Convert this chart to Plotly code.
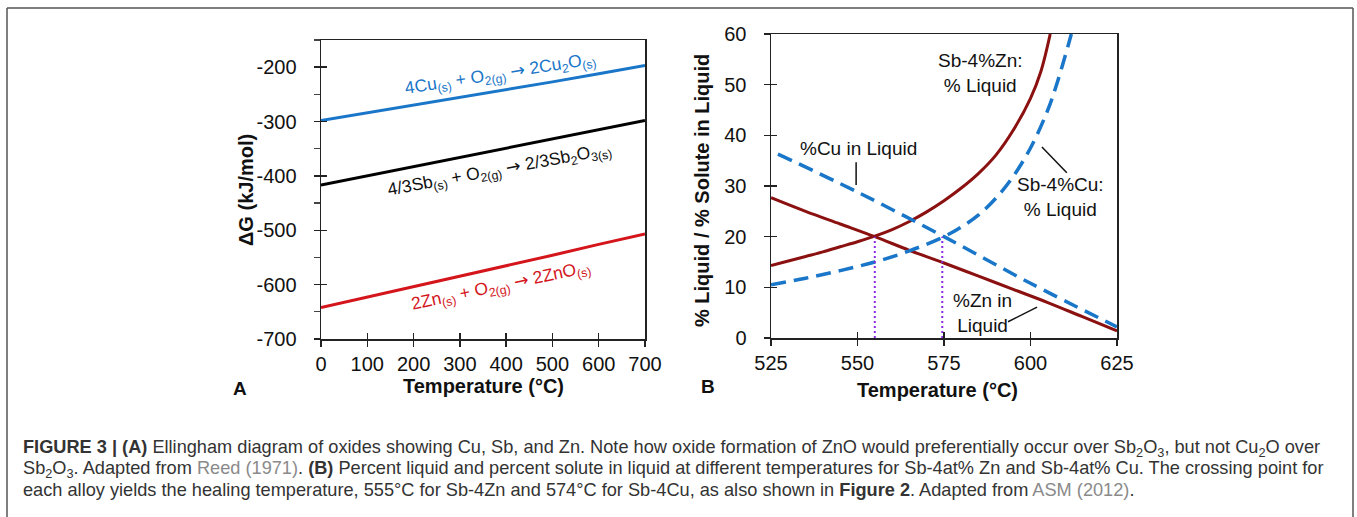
import plotly.graph_objects as go

W, H = 1357, 517

# ---------------- Panel A data (Ellingham) ----------------
temp_a = [0, 100, 200, 300, 400, 500, 600, 700]
dg_cu = [-298, -284, -270, -256, -242, -227, -212, -197]
dg_sb = [-417, -400, -383, -366, -350, -333, -315, -298]
dg_zn = [-642, -623, -604, -585, -565, -546, -526, -507]
a_xticks = [0, 100, 200, 300, 400, 500, 600, 700]
a_yticks = [-700, -600, -500, -400, -300, -200]
a_yticktext = ["-700", "-600", "-500", "-400", "-300", "-200"]

# ---------------- Panel B data ----------------
t_zn_liq = [525, 530, 535, 540, 545, 550, 555, 560, 565, 570, 575, 580, 585, 590, 595, 600, 603, 605.7]
zn_liq = [14.3, 15.2, 16.1, 17.0, 18.0, 19.0, 20.1, 21.4, 23.0, 24.9, 27.1, 29.6, 32.5, 36.1, 41.0, 47.3, 52.6, 60.0]

t_zn_sol = [525, 535, 545, 555, 565, 575, 585, 595, 605, 615, 625]
zn_sol = [27.7, 25.0, 22.5, 20.0, 17.3, 14.8, 12.2, 9.6, 7.0, 4.2, 1.4]

t_cu_liq = [525, 535, 545, 555, 565, 575, 580, 585, 590, 595, 600, 605, 608, 611.8]
cu_liq = [10.5, 11.8, 13.3, 15.0, 17.2, 20.0, 21.9, 24.3, 27.6, 31.9, 37.5, 45.0, 51.0, 60.0]

t_cu_sol = [527, 550, 575, 600, 625]
cu_sol = [36.3, 28.8, 20.0, 10.8, 2.2]

heal_t = [555, 574.5]
heal_y = [20, 20]
b_xticks = [525, 550, 575, 600, 625]
b_yticks = [0, 10, 20, 30, 40, 50, 60]

BLUE = "#1976c8"
RED = "#d4161c"
DRED = "#8b1010"
PURPLE = "#8a2be2"
FONT = "Liberation Sans"
ARROW = "<span style='font-family:DejaVu Sans'>→</span>"


def px_x(p):
    return p / W


def px_y(p):
    return 1 - p / H


fig = go.Figure()

# Panel A lines
fig.add_trace(go.Scatter(x=temp_a, y=dg_cu, mode="lines", line=dict(color=BLUE, width=3), xaxis="x", yaxis="y", hoverinfo="skip"))
fig.add_trace(go.Scatter(x=temp_a, y=dg_sb, mode="lines", line=dict(color="#000000", width=3), xaxis="x", yaxis="y", hoverinfo="skip"))
fig.add_trace(go.Scatter(x=temp_a, y=dg_zn, mode="lines", line=dict(color=RED, width=3), xaxis="x", yaxis="y", hoverinfo="skip"))

# Panel B lines
fig.add_trace(go.Scatter(x=t_zn_sol, y=zn_sol, mode="lines", line=dict(color=DRED, width=3, shape="spline"), xaxis="x2", yaxis="y2", hoverinfo="skip"))
fig.add_trace(go.Scatter(x=t_zn_liq, y=zn_liq, mode="lines", line=dict(color=DRED, width=3, shape="spline"), xaxis="x2", yaxis="y2", hoverinfo="skip"))
fig.add_trace(go.Scatter(x=t_cu_sol, y=cu_sol, mode="lines", line=dict(color=BLUE, width=3.5, dash="15px,8px", shape="spline"), xaxis="x2", yaxis="y2", hoverinfo="skip"))
fig.add_trace(go.Scatter(x=t_cu_liq, y=cu_liq, mode="lines", line=dict(color=BLUE, width=3.5, dash="15px,8px", shape="spline"), xaxis="x2", yaxis="y2", hoverinfo="skip"))
for t, y in zip(heal_t, heal_y):
    fig.add_trace(go.Scatter(x=[t, t], y=[0, y], mode="lines", line=dict(color=PURPLE, width=2, dash="2px,3px"), xaxis="x2", yaxis="y2", hoverinfo="skip"))

# dummy traces for overlay (inside-tick) axes
fig.add_trace(go.Scatter(x=[None], y=[None], xaxis="x3", yaxis="y3", hoverinfo="skip"))
fig.add_trace(go.Scatter(x=[None], y=[None], xaxis="x4", yaxis="y4", hoverinfo="skip"))

domA_x = [px_x(321), px_x(645)]
domA_y = [px_y(339), px_y(40)]
domB_x = [px_x(771), px_x(1117)]
domB_y = [px_y(338), px_y(34)]

tickfont = dict(family=FONT, size=20, color="#111")
common = dict(showgrid=False, zeroline=False, showline=True, linecolor="#222", linewidth=1.5, automargin=False,
              ticks="outside", ticklen=6, tickwidth=1.5, tickcolor="#222", tickfont=tickfont, mirror=True)
overlay = dict(showgrid=False, zeroline=False, showline=False, ticks="inside", ticklen=6, tickwidth=1.5,
               tickcolor="#222", showticklabels=False, automargin=False)

fig.update_layout(
    template="none",
    width=W, height=H, margin=dict(l=0, r=0, t=0, b=0, pad=0, autoexpand=False),
    paper_bgcolor="white", plot_bgcolor="white", showlegend=False,
    font=dict(family=FONT, color="#111"),
    xaxis=dict(domain=domA_x, range=[0, 700], tickmode="array", tickvals=a_xticks, anchor="y", ticklabelstandoff=0, **common),
    yaxis=dict(domain=domA_y, range=[-700, -150], tickmode="array", tickvals=a_yticks, ticktext=a_yticktext, anchor="x", ticklabelstandoff=13,
               minor=dict(ticks="outside", dtick=50, tick0=-750, ticklen=6, tickwidth=1.2, tickcolor="#444"), **common),
    xaxis3=dict(domain=domA_x, range=[0, 700], tickmode="array", tickvals=a_xticks, anchor="y3", overlaying="x", **overlay),
    yaxis3=dict(domain=domA_y, range=[-700, -150], tickmode="array", tickvals=a_yticks, anchor="x3", overlaying="y", **overlay),
    xaxis2=dict(domain=domB_x, range=[525, 625], tickmode="array", tickvals=b_xticks, anchor="y2", ticklabelstandoff=0, **common),
    yaxis2=dict(domain=domB_y, range=[0, 60], tickmode="array", tickvals=b_yticks, anchor="x2", ticklabelstandoff=13, **common),
    xaxis4=dict(domain=domB_x, range=[525, 625], tickmode="array", tickvals=b_xticks, anchor="y4", overlaying="x2", **overlay),
    yaxis4=dict(domain=domB_y, range=[0, 60], tickmode="array", tickvals=b_yticks, anchor="x4", overlaying="y2", **overlay),
)

C = dict(xanchor="center", yanchor="middle", showarrow=False)
ann = []
# Panel A reaction labels
labfs = 17.5
ann.append(dict(x=388, y=-214, xref="x", yref="y", text="4Cu<sub>(s)</sub> + O<sub>2(g)</sub> " + ARROW + " 2Cu<sub>2</sub>O<sub>(s)</sub>",
                textangle=-9, font=dict(family=FONT, size=labfs, color=BLUE), **C))
ann.append(dict(x=385, y=-390, xref="x", yref="y", text="4/3Sb<sub>(s)</sub> + O<sub>2(g)</sub> " + ARROW + " 2/3Sb<sub>2</sub>O<sub>3(s)</sub>",
                textangle=-10.5, font=dict(family=FONT, size=labfs, color="#111"), **C))
ann.append(dict(x=388, y=-604, xref="x", yref="y", text="2Zn<sub>(s)</sub> + O<sub>2(g)</sub> " + ARROW + " 2ZnO<sub>(s)</sub>",
                textangle=-12, font=dict(family=FONT, size=labfs, color=RED), **C))

# Panel B labels
lblfont = dict(family=FONT, size=19, color="#111")
ann.append(dict(x=585.4, y=52.3, xref="x2", yref="y2", text="Sb-4%Zn:<br>% Liquid", font=lblfont, **C))
ann.append(dict(x=550.2, y=37.4, xref="x2", yref="y2", text="%Cu in Liquid", font=lblfont, **C))
ann.append(dict(x=608.8, y=27.9, xref="x2", yref="y2", text="Sb-4%Cu:<br>% Liquid", font=lblfont, **C))
ann.append(dict(x=586.1, y=4.9, xref="x2", yref="y2", text="%Zn in<br>Liquid", font=lblfont, **C))

# Axis titles
ttl = dict(family=FONT, size=20, color="#111")
ann.append(dict(x=px_x(483), y=px_y(386), xref="paper", yref="paper", text="<b>Temperature (°C)</b>", font=ttl, **C))
ann.append(dict(x=px_x(937), y=px_y(390), xref="paper", yref="paper", text="<b>Temperature (°C)</b>", font=ttl, **C))
ann.append(dict(x=px_x(246), y=px_y(190), xref="paper", yref="paper", text="<b>ΔG (kJ/mol)</b>", textangle=-90, font=ttl, **C))
ann.append(dict(x=px_x(702), y=px_y(191), xref="paper", yref="paper", text="<b>% Liquid / % Solute in Liquid</b>", textangle=-90, font=ttl, **C))

# Panel letters
ann.append(dict(x=px_x(240), y=px_y(388), xref="paper", yref="paper", text="<b>A</b>", font=dict(family=FONT, size=19, color="#111"), **C))
ann.append(dict(x=px_x(708), y=px_y(386), xref="paper", yref="paper", text="<b>B</b>", font=dict(family=FONT, size=19, color="#111"), **C))

# Caption
capfont = dict(family=FONT, size=18.2, color="#333")
LINK = "<span style='color:#8a8a8a'>{}</span>"
cap_lines = [
    "<b>FIGURE 3 | (A)</b> Ellingham diagram of oxides showing Cu, Sb, and Zn. Note how oxide formation of ZnO would preferentially occur over Sb<sub>2</sub>O<sub>3</sub>, but not Cu<sub>2</sub>O over",
    "Sb<sub>2</sub>O<sub>3</sub>. Adapted from " + LINK.format("Reed (1971)") + ". <b>(B)</b> Percent liquid and percent solute in liquid at different temperatures for Sb-4at% Zn and Sb-4at% Cu. The crossing point for",
    "each alloy yields the healing temperature, 555°C for Sb-4Zn and 574°C for Sb-4Cu, as also shown in <b>Figure 2</b>. Adapted from " + LINK.format("ASM (2012)") + ".",
]
cap_y = [448, 469, 490]
for txt, yy in zip(cap_lines, cap_y):
    ann.append(dict(x=px_x(21), y=px_y(yy), xref="paper", yref="paper", xanchor="left", yanchor="middle",
                    text=txt, showarrow=False, font=capfont, align="left"))

fig.update_layout(annotations=ann)

# Leader lines (panel B)
shapes = []
leaders = [
    ((549.6, 30.2), (549.6, 34.7)),
    ((603.3, 37.7), (610.5, 32.6)),
    ((593.5, 3.2), (601.9, 6.1)),
]
for (x0, y0), (x1, y1) in leaders:
    shapes.append(dict(type="line", xref="x2", yref="y2", x0=x0, y0=y0, x1=x1, y1=y1, line=dict(color="#111", width=1.5)))

# Outer frame
frame = dict(color="#555", width=1.5)
shapes.append(dict(type="line", xref="paper", yref="paper", x0=px_x(7), x1=px_x(7), y0=0, y1=px_y(8), line=frame))
shapes.append(dict(type="line", xref="paper", yref="paper", x0=px_x(7), x1=px_x(1353), y0=px_y(8), y1=px_y(8), line=frame))
shapes.append(dict(type="line", xref="paper", yref="paper", x0=px_x(1353), x1=px_x(1353), y0=0, y1=px_y(8), line=frame))
fig.update_layout(shapes=shapes)

fig.write_html("out.html", config={"displayModeBar": False, "staticPlot": True},
               post_script="document.body.style.margin='0px';document.body.style.overflow='hidden';")
